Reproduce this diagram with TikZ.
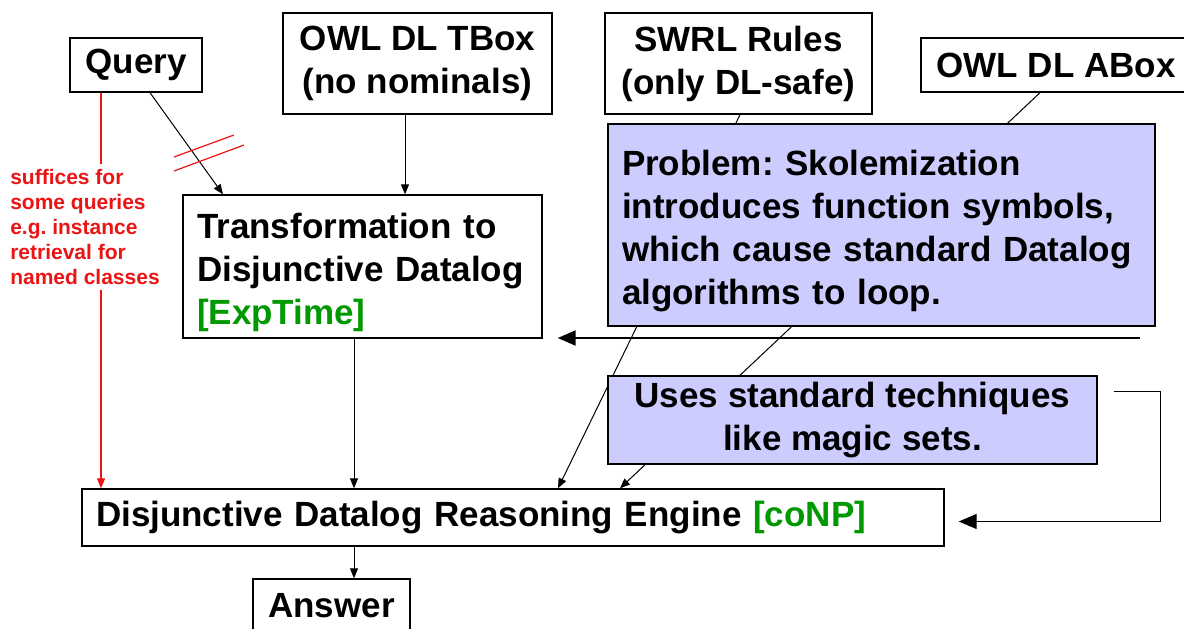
\documentclass[tikz,border=0pt]{standalone}
\usepackage{fontspec}
\setmainfont{Liberation Sans}
\usetikzlibrary{calc, arrows.meta, backgrounds}
\definecolor{notefill}{RGB}{204,204,255}
\definecolor{costgreen}{RGB}{0,153,0}
\definecolor{hintred}{RGB}{235,20,20}
\newcommand{\cost}[1]{\textcolor{costgreen}{#1}}
\newcommand{\lowerstrut}{\rule{0pt}{18.5pt}}
\frenchspacing

\begin{document}
\begin{tikzpicture}[
    x=0.5pt, y=-0.5pt,
    big font/.style={font=\fontsize{17.5pt}{21.5pt}\selectfont\bfseries},
    plain box/.style={draw, line width=0.7pt, fill=white, big font, inner xsep=7pt, inner ysep=3pt, align=center},
    note box/.style={plain box, fill=notefill},
    thin arrow/.style={line width=0.5pt, -{Triangle[length=5pt, width=4pt]}},
    feed arrow/.style={-{Triangle[length=9pt, width=7.5pt]}},
    hint/.style={hintred, line width=0.6pt}
]
\useasboundingbox (0,0) rectangle (1184,628);

% 1. Entradas de la fila superior
\node[plain box, minimum width=66pt, minimum height=27pt] (query) at (136,65) {Query};
\node[plain box, minimum width=134.5pt, minimum height=50.5pt] (tbox) at (417.5,63.5) {OWL DL TBox\\(no nominals)};
\node[plain box, minimum width=133.5pt, minimum height=50.5pt] (swrl) at (738.5,63.5) {SWRL Rules\\(only DL-safe)};
\node[plain box, minimum width=135pt, minimum height=27pt] (abox) at (1056,65) {OWL DL ABox};

% 2. Transformacion y notas
\node[plain box, text width=165.5pt, align=left, minimum height=71.5pt, inner ysep=0pt] (trans) at (362.5,266.5)
    {\lowerstrut Transformation to\\Disjunctive Datalog\\\cost{[ExpTime]}};
\node[note box, text width=259.5pt, align=left, minimum height=101pt] (problem) at (881.5,225)
    {\lowerstrut Problem: Skolemization\\introduces function symbols,\\which cause standard Datalog\\algorithms to loop.};
\node[note box, minimum width=244.5pt, minimum height=43pt] (uses) at (852.5,420)
    {Uses standard techniques\\like magic sets.};
\node[hintred, font=\fontsize{10.5pt}{12.6pt}\selectfont\bfseries, align=left, inner sep=2pt] (hintnote) at (85,227)
    {suffices for\\some queries\\e.g. instance\\retrieval for\\named classes};

% 3. Motor y respuesta
\node[plain box, text width=417pt, align=left, minimum height=28.5pt] (engine) at (513,517.5)
    {Disjunctive Datalog Reasoning Engine \cost{[coNP]}};
\node[plain box, minimum width=78.5pt, minimum height=27pt] (answer) at (331.5,606) {Answer};

% 4. Conexiones
\draw[thin arrow] (query.south -| 150,0) -- (trans.north -| 223,0);
\draw[hint] (174,157) -- (234,135);
\draw[hint] (174,171) -- (244,145);
\draw[hint] (query.south -| 101,0) -- (hintnote.north -| 101,0);
\draw[hint, -{Triangle[length=5pt, width=4pt]}] (hintnote.south -| 101,0) -- (engine.north -| 101,0);
\draw[thin arrow] (tbox.south -| 405,0) -- (trans.north -| 405,0);
\begin{pgfonlayer}{background}
    \draw[thin arrow] (swrl.south -| 740,0) -- (engine.north -| 558,0);
    \draw[thin arrow] (abox.south -| 1040,0) -- (engine.north -| 620,0);
\end{pgfonlayer}
\draw[thin arrow] (trans.south -| 354,0) -- (engine.north -| 354,0);
\draw[thin arrow] (engine.south -| 354,0) -- (answer.north -| 354,0);

% Flechas grandes desde la derecha
\coordinate (feed) at (1140,338);
\draw[feed arrow, line width=1pt] (feed) -- ($(trans.east |- feed)+(15,0)$);
\coordinate (loopstart) at ($(uses.north east)+(16,16)$);
\draw[feed arrow, line width=0.5pt] (loopstart) -| (1160,450) |- ($(engine.east)+(14,4)$);

\end{tikzpicture}
\end{document}
